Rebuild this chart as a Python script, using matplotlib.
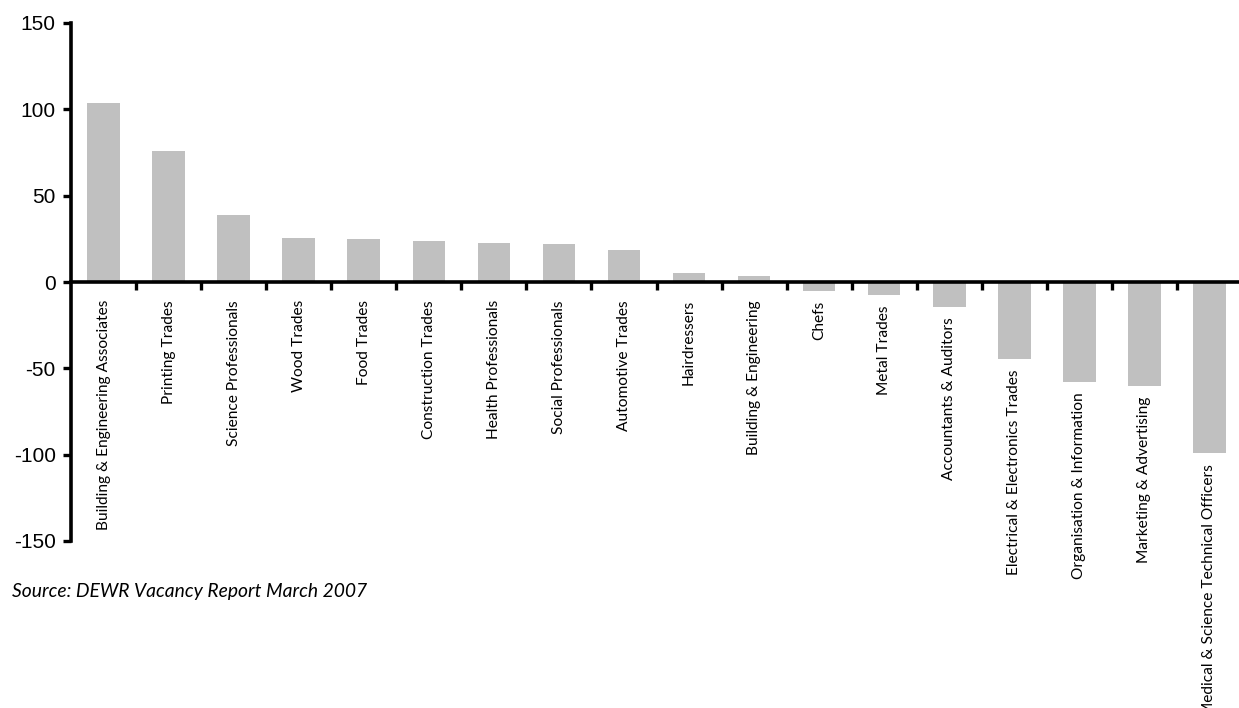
import matplotlib
matplotlib.use("Agg")
import matplotlib.pyplot as plt
from matplotlib.ticker import FixedLocator

categories = [
    "Building & Engineering Associates", "Printing Trades", "Science Professionals",
    "Wood Trades", "Food Trades", "Construction Trades", "Health Professionals",
    "Social Professionals", "Automotive Trades", "Hairdressers",
    "Building & Engineering", "Chefs", "Metal Trades", "Accountants & Auditors",
    "Electrical & Electronics Trades", "Organisation & Information",
    "Marketing & Advertising", "Medical & Science Technical Officers",
]
values = [103.5, 75.7, 38.6, 25.3, 24.7, 23.6, 22.4, 21.8, 18.3, 5.0,
          3.3, -5.0, -7.4, -14.3, -44.8, -58.1, -60.5, -99.2]
y_ticks = [-150, -100, -50, 0, 50, 100, 150]
source_note = "Source: DEWR Vacancy Report March 2007"

W, H = 1239, 708
fig = plt.figure(figsize=(W / 100, H / 100), dpi=100)
left_px, right_px, top_px, bottom_px = 71, 1242, 23, 541
ax = fig.add_axes([left_px / W, 1 - bottom_px / H,
                   (right_px - left_px) / W, (bottom_px - top_px) / H])

x = list(range(len(categories)))
ax.bar(x, values, width=0.5, color="#C0C0C0", zorder=1)

ax.set_xlim(-0.5, len(categories) - 0.5)
ax.set_ylim(-150, 150)

for s in ("top", "right"):
    ax.spines[s].set_visible(False)
ax.spines["bottom"].set_position(("data", 0))
ax.spines["bottom"].set_linewidth(2.6)
ax.spines["left"].set_linewidth(2.6)
ax.spines["bottom"].set_zorder(3)

ax.set_yticks(y_ticks)
ax.set_yticklabels([str(v) for v in y_ticks], family="Liberation Sans", fontsize=15)
ax.tick_params(axis="y", direction="out", length=6, width=2.4, pad=5)

# category boundaries carry the small tick marks; names sit under each bar
ax.set_xticks([])
ax.xaxis.set_minor_locator(FixedLocator([i + 0.5 for i in range(len(categories) - 1)]))
ax.tick_params(axis="x", which="minor", direction="out", length=6, width=2.4)

for xi, name, v in zip(x, categories, values):
    off = 13.0 if v >= 0 else 7.5
    ax.annotate(name, xy=(xi, min(0, v)), xytext=(0, -off), textcoords="offset points",
                rotation=90, ha="center", va="top", family="Lato", fontsize=11.2,
                annotation_clip=False)

fig.text(12 / W, 1 - 592 / H, source_note, family="Lato", style="italic",
         fontsize=13.9, va="center", ha="left")

fig.savefig("out.png", dpi=100)
